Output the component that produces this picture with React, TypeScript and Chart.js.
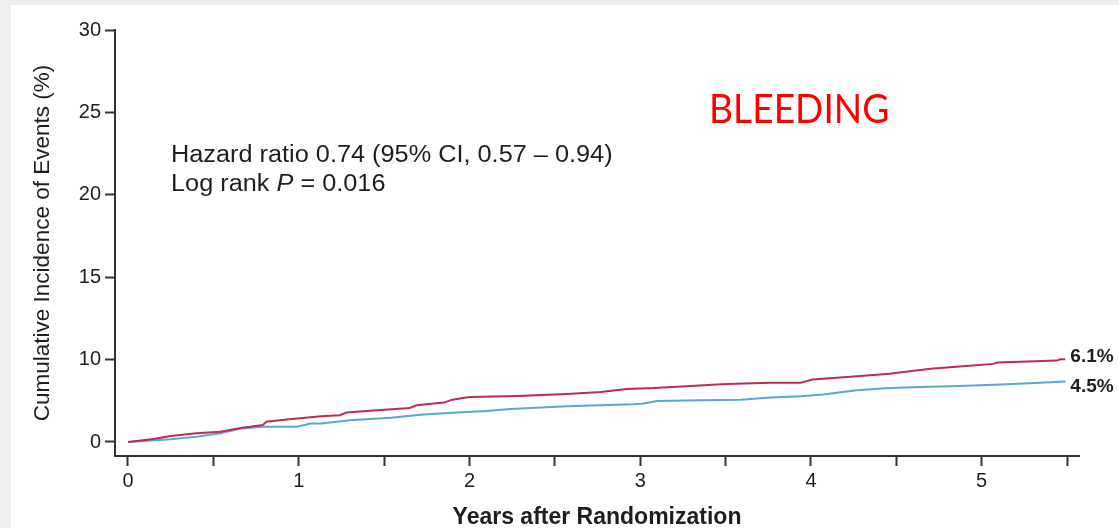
import React, { useEffect, useRef } from 'react';
import { Chart, registerables } from 'chart.js';

Chart.register(...registerables);

// ---- Data ----
const redYears = [0, 0.15, 0.25, 0.4, 0.54, 0.67, 0.79, 0.81, 0.93, 1.13, 1.24, 1.28, 1.46, 1.65, 1.69, 1.85, 1.9, 2.0, 2.28, 2.57, 2.77, 2.92, 3.08, 3.35, 3.47, 3.76, 3.94, 4.01, 4.27, 4.46, 4.7, 4.87, 5.07, 5.09, 5.27, 5.44, 5.46, 5.49];
const redPct = [0, 0.36, 0.72, 1.05, 1.24, 1.72, 2.05, 2.45, 2.73, 3.13, 3.25, 3.58, 3.86, 4.13, 4.46, 4.78, 5.14, 5.46, 5.58, 5.82, 6.06, 6.42, 6.54, 6.87, 7.02, 7.19, 7.19, 7.59, 7.99, 8.28, 8.88, 9.16, 9.48, 9.64, 9.76, 9.88, 10.02, 10.02];

const blueYears = [0, 0.25, 0.4, 0.54, 0.67, 0.79, 0.99, 1.07, 1.13, 1.3, 1.54, 1.73, 1.93, 2.1, 2.24, 2.57, 2.96, 3.02, 3.1, 3.35, 3.59, 3.76, 3.94, 4.07, 4.27, 4.46, 4.7, 4.87, 5.11, 5.28, 5.49];
const bluePct = [0, 0.33, 0.64, 1.05, 1.65, 1.84, 1.84, 2.25, 2.25, 2.65, 2.93, 3.34, 3.58, 3.77, 4.01, 4.34, 4.58, 4.66, 4.98, 5.06, 5.12, 5.39, 5.54, 5.75, 6.27, 6.54, 6.69, 6.81, 6.99, 7.14, 7.35];

const xTickValues = [0, 0.5, 1, 1.5, 2, 2.5, 3, 3.5, 4, 4.5, 5, 5.5];
const xTickLabels = ['0', '', '1', '', '2', '', '3', '', '4', '', '5', ''];
const yTickLabels = ['0', '10', '15', '20', '25', '30'];
const yTickValues = [0, 5, 10, 15, 20, 25]; // internal (broken-axis) positions

const endLabels = ['6.1%', '4.5%'];
const titleText = 'BLEEDING';
const hrLine = 'Hazard ratio 0.74 (95% CI, 0.57 \u2013 0.94)';
const yTitle = 'Cumulative Incidence of Events (%)';
const xTitle = 'Years after Randomization';

// The printed axis has equal spacing for 0-10 and for each 5 above 10
const toAxis = (v: number) => (v <= 10 ? v / 2 : v - 5);

const RED = 'rgb(192,44,78)';
const BLUE = 'rgb(84,170,214)';
const FONT = "'Liberation Sans', Arial, sans-serif";

export default function App() {
  const ref = useRef<HTMLCanvasElement | null>(null);

  useEffect(() => {
    const canvas = ref.current;
    if (!canvas) return;

    const bgPlugin = {
      id: 'bg',
      beforeDraw(chart: any) {
        const ctx = chart.ctx;
        ctx.save();
        ctx.fillStyle = '#efefef';
        ctx.fillRect(0, 0, chart.width, chart.height);
        ctx.fillStyle = '#ffffff';
        ctx.fillRect(11, 5, chart.width - 11, chart.height - 5);
        ctx.restore();
      },
    };

    const textPlugin = {
      id: 'texts',
      afterDraw(chart: any) {
        const ctx = chart.ctx;
        const xs = chart.scales.x;
        const ys = chart.scales.y;
        const area = chart.chartArea;
        ctx.save();
        ctx.fillStyle = '#1e1e1e';

        // y title
        ctx.save();
        ctx.translate(43, (area.top + area.bottom) / 2);
        ctx.rotate(-Math.PI / 2);
        ctx.font = `22.5px ${FONT}`;
        ctx.textAlign = 'center';
        ctx.textBaseline = 'middle';
        ctx.fillText(yTitle, 0, 0);
        ctx.restore();

        // x title
        ctx.save();
        ctx.font = `bold 23px ${FONT}`;
        ctx.textAlign = 'center';
        ctx.textBaseline = 'alphabetic';
        ctx.fillText(xTitle, (area.left + area.right) / 2, 524);
        ctx.restore();

        // Hazard ratio block
        ctx.save();
        ctx.translate(171, 162);
        ctx.scale(1.1, 1);
        ctx.font = `23px ${FONT}`;
        ctx.textAlign = 'left';
        ctx.textBaseline = 'alphabetic';
        ctx.fillText(hrLine, 0, 0);
        ctx.restore();

        ctx.save();
        ctx.translate(171, 191);
        ctx.scale(1.1, 1);
        ctx.textAlign = 'left';
        ctx.textBaseline = 'alphabetic';
        let cx = 0;
        ctx.font = `23px ${FONT}`;
        ctx.fillText('Log rank ', cx, 0);
        cx += ctx.measureText('Log rank ').width;
        ctx.font = `italic 23px ${FONT}`;
        ctx.fillText('P', cx, 0);
        cx += ctx.measureText('P').width;
        ctx.font = `23px ${FONT}`;
        ctx.fillText(' = 0.016', cx, 0);
        ctx.restore();

        // BLEEDING
        ctx.save();
        ctx.translate(709, 123);
        ctx.scale(0.93, 1);
        ctx.fillStyle = '#ff0000';
        ctx.font = `40px Lato, 'Open Sans', sans-serif`;
        ctx.textAlign = 'left';
        ctx.textBaseline = 'alphabetic';
        ctx.fillText(titleText, 0, 0);
        ctx.restore();

        // End labels
        ctx.save();
        ctx.fillStyle = '#1e1e1e';
        ctx.font = `bold 19px ${FONT}`;
        ctx.textAlign = 'left';
        ctx.textBaseline = 'middle';
        const rEnd = ys.getPixelForValue(toAxis(redPct[redPct.length - 1]));
        const bEnd = ys.getPixelForValue(toAxis(bluePct[bluePct.length - 1]));
        const xEnd = xs.getPixelForValue(redYears[redYears.length - 1]) + 5;
        ctx.fillText(endLabels[0], xEnd, rEnd - 2);
        ctx.fillText(endLabels[1], xEnd, bEnd + 5);
        ctx.restore();

        ctx.restore();
      },
    };

    const chart = new Chart(canvas, {
      type: 'line',
      data: {
        datasets: [
          {
            label: 'Red',
            data: redYears.map((t, i) => ({ x: t, y: toAxis(redPct[i]) })),
            borderColor: RED,
            borderWidth: 2,
            pointRadius: 0,
            tension: 0,
            fill: false,
          },
          {
            label: 'Blue',
            data: blueYears.map((t, i) => ({ x: t, y: toAxis(bluePct[i]) })),
            borderColor: BLUE,
            borderWidth: 2,
            pointRadius: 0,
            tension: 0,
            fill: false,
          },
        ],
      },
      options: {
        responsive: false,
        animation: false,
        layout: { padding: { left: 0, top: 30, right: 40, bottom: 0 } },
        plugins: {
          legend: { display: false },
          tooltip: { enabled: false },
        },
        scales: {
          x: {
            type: 'linear',
            position: 'bottom',
            min: -0.076,
            max: 5.57,
            afterBuildTicks: (s: any) => {
              s.ticks = xTickValues.map((v) => ({ value: v }));
            },
            afterFit: (s: any) => {
              s.height = 72;
            },
            grid: {
              display: true,
              drawOnChartArea: false,
              drawTicks: true,
              tickLength: 10,
              tickWidth: 2,
              tickColor: '#333',
            },
            border: { display: true, color: '#333', width: 2 },
            ticks: {
              autoSkip: false,
              maxRotation: 0,
              padding: 3,
              color: '#1e1e1e',
              font: { family: FONT, size: 20 },
              callback: (v: any) => {
                const i = xTickValues.indexOf(Number(v));
                return i >= 0 ? xTickLabels[i] : '';
              },
            },
          },
          y: {
            type: 'linear',
            position: 'left',
            min: -0.85,
            max: 25,
            afterBuildTicks: (s: any) => {
              s.ticks = yTickValues.map((v) => ({ value: v }));
            },
            afterFit: (s: any) => {
              s.width = 115;
            },
            grid: {
              display: true,
              drawOnChartArea: false,
              drawTicks: true,
              tickLength: 10,
              tickWidth: 2,
              tickColor: '#333',
            },
            border: { display: true, color: '#333', width: 2 },
            ticks: {
              autoSkip: false,
              padding: 4,
              color: '#1e1e1e',
              font: { family: FONT, size: 20 },
              callback: (v: any) => {
                const i = yTickValues.indexOf(Number(v));
                return i >= 0 ? yTickLabels[i] : '';
              },
            },
          },
        },
      },
      plugins: [bgPlugin, textPlugin],
    } as any);

    return () => chart.destroy();
  }, []);

  return (
    <div style={{ position: 'fixed', left: 0, top: 0, width: 1119, height: 528 }}>
      <canvas ref={ref} width={1119} height={528} style={{ display: 'block', width: 1119, height: 528 }} />
    </div>
  );
}
